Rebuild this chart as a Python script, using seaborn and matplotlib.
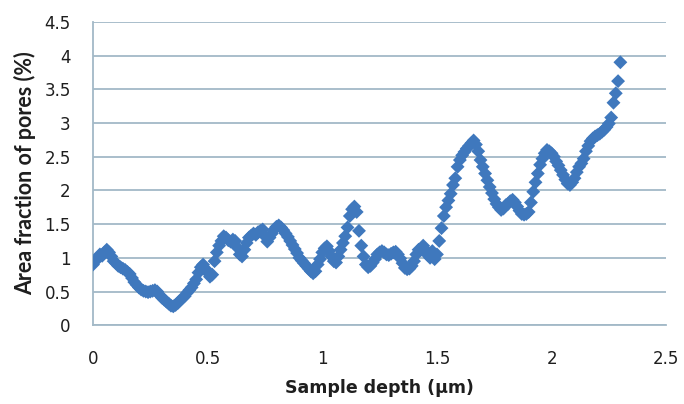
import numpy as np
import pandas as pd
import matplotlib
matplotlib.use("Agg")
import matplotlib.pyplot as plt
import seaborn as sns

# depth (um), one sample every 0.01 um
depth = [
    0.00, 0.01, 0.02, 0.03, 0.04, 0.05, 0.06, 0.07, 0.08, 0.09,
    0.10, 0.11, 0.12, 0.13, 0.14, 0.15, 0.16, 0.17, 0.18, 0.19,
    0.20, 0.21, 0.22, 0.23, 0.24, 0.25, 0.26, 0.27, 0.28, 0.29,
    0.30, 0.31, 0.32, 0.33, 0.34, 0.35, 0.36, 0.37, 0.38, 0.39,
    0.40, 0.41, 0.42, 0.43, 0.44, 0.45, 0.46, 0.47, 0.48, 0.49,
    0.50, 0.51, 0.52, 0.53, 0.54, 0.55, 0.56, 0.57, 0.58, 0.59,
    0.60, 0.61, 0.62, 0.63, 0.64, 0.65, 0.66, 0.67, 0.68, 0.69,
    0.70, 0.71, 0.72, 0.73, 0.74, 0.75, 0.76, 0.77, 0.78, 0.79,
    0.80, 0.81, 0.82, 0.83, 0.84, 0.85, 0.86, 0.87, 0.88, 0.89,
    0.90, 0.91, 0.92, 0.93, 0.94, 0.95, 0.96, 0.97, 0.98, 0.99,
    1.00, 1.01, 1.02, 1.03, 1.04, 1.05, 1.06, 1.07, 1.08, 1.09,
    1.10, 1.11, 1.12, 1.13, 1.14, 1.15, 1.16, 1.17, 1.18, 1.19,
    1.20, 1.21, 1.22, 1.23, 1.24, 1.25, 1.26, 1.27, 1.28, 1.29,
    1.30, 1.31, 1.32, 1.33, 1.34, 1.35, 1.36, 1.37, 1.38, 1.39,
    1.40, 1.41, 1.42, 1.43, 1.44, 1.45, 1.46, 1.47, 1.48, 1.49,
    1.50, 1.51, 1.52, 1.53, 1.54, 1.55, 1.56, 1.57, 1.58, 1.59,
    1.60, 1.61, 1.62, 1.63, 1.64, 1.65, 1.66, 1.67, 1.68, 1.69,
    1.70, 1.71, 1.72, 1.73, 1.74, 1.75, 1.76, 1.77, 1.78, 1.79,
    1.80, 1.81, 1.82, 1.83, 1.84, 1.85, 1.86, 1.87, 1.88, 1.89,
    1.90, 1.91, 1.92, 1.93, 1.94, 1.95, 1.96, 1.97, 1.98, 1.99,
    2.00, 2.01, 2.02, 2.03, 2.04, 2.05, 2.06, 2.07, 2.08, 2.09,
    2.10, 2.11, 2.12, 2.13, 2.14, 2.15, 2.16, 2.17, 2.18, 2.19,
    2.20, 2.21, 2.22, 2.23, 2.24, 2.25, 2.26, 2.27, 2.28, 2.29,
    2.30,
]

# area fraction of pores (%)
pores = [
    0.90, 0.95, 1.00, 1.05, 1.03, 1.08, 1.12, 1.08, 1.02, 0.95,
    0.92, 0.88, 0.86, 0.84, 0.82, 0.79, 0.76, 0.70, 0.64, 0.60,
    0.56, 0.53, 0.51, 0.50, 0.49, 0.50, 0.51, 0.52, 0.50, 0.45,
    0.41, 0.38, 0.35, 0.32, 0.29, 0.28, 0.30, 0.33, 0.37, 0.40,
    0.43, 0.48, 0.52, 0.56, 0.62, 0.68, 0.78, 0.86, 0.90, 0.84,
    0.78, 0.72, 0.75, 0.95, 1.08, 1.18, 1.25, 1.32, 1.30, 1.26,
    1.24, 1.27, 1.25, 1.15, 1.05, 1.02, 1.12, 1.22, 1.30, 1.33,
    1.36, 1.34, 1.38, 1.40, 1.42, 1.32, 1.24, 1.30, 1.36, 1.42,
    1.46, 1.48, 1.45, 1.41, 1.36, 1.31, 1.25, 1.19, 1.13, 1.07,
    1.00, 0.96, 0.92, 0.88, 0.84, 0.80, 0.77, 0.80, 0.90, 0.98,
    1.08, 1.14, 1.17, 1.10, 1.02, 0.95, 0.93, 1.02, 1.12, 1.22,
    1.32, 1.45, 1.62, 1.72, 1.76, 1.68, 1.40, 1.18, 1.02, 0.90,
    0.86, 0.88, 0.93, 0.98, 1.05, 1.08, 1.10, 1.08, 1.05, 1.04,
    1.06, 1.08, 1.09, 1.05, 0.99, 0.92, 0.85, 0.83, 0.84, 0.88,
    0.95, 1.05, 1.12, 1.12, 1.18, 1.12, 1.04, 1.00, 1.10, 0.98,
    1.05, 1.25, 1.44, 1.62, 1.75, 1.85, 1.95, 2.08, 2.18, 2.35,
    2.45, 2.52, 2.57, 2.62, 2.66, 2.70, 2.74, 2.68, 2.58, 2.45,
    2.35, 2.25, 2.15, 2.05, 1.96, 1.87, 1.80, 1.75, 1.71, 1.73,
    1.78, 1.80, 1.84, 1.86, 1.82, 1.76, 1.70, 1.65, 1.64, 1.65,
    1.68, 1.82, 1.98, 2.12, 2.25, 2.38, 2.47, 2.55, 2.60, 2.58,
    2.55, 2.50, 2.43, 2.37, 2.30, 2.23, 2.16, 2.10, 2.08, 2.12,
    2.18, 2.27, 2.35, 2.40, 2.47, 2.58, 2.66, 2.73, 2.77, 2.80,
    2.82, 2.84, 2.87, 2.90, 2.94, 2.99, 3.08, 3.30, 3.44, 3.62,
    3.90,
]

x_ticks = [0, 0.5, 1, 1.5, 2, 2.5]
x_tick_labels = ["0", "0.5", "1", "1.5", "2", "2.5"]
y_ticks = [0, 0.5, 1, 1.5, 2, 2.5, 3, 3.5, 4, 4.5]
y_tick_labels = ["0", "0.5", "1", "1.5", "2", "2.5", "3", "3.5", "4", "4.5"]

sns.set_style("white")
plt.rcParams["font.family"] = ["DejaVu Sans"]

grid_col = "#a3b9c7"
text_col = "#1e1e1e"

df = pd.DataFrame({"depth": depth, "pores": pores})

fig = plt.figure(figsize=(6.84, 4.04), dpi=100)
ax = fig.add_axes([0.136, 0.195, 0.838, 0.751])

sns.scatterplot(data=df, x="depth", y="pores", marker="D", s=50,
                color="#3f78bd", edgecolor="none", ax=ax, zorder=3)

ax.set_xlim(0, 2.5)
ax.set_ylim(0, 4.5)
ax.set_xticks(x_ticks)
ax.set_xticklabels(x_tick_labels)
ax.set_yticks(y_ticks)
ax.set_yticklabels(y_tick_labels)

ax.grid(axis="y", color=grid_col, linewidth=1.3)
ax.grid(axis="x", visible=False)
for side in ["top", "right"]:
    ax.spines[side].set_visible(False)
for side in ["left", "bottom"]:
    ax.spines[side].set_color(grid_col)
    ax.spines[side].set_linewidth(1.3)

ax.tick_params(axis="both", direction="out", length=6, width=1.3,
               color=grid_col, labelsize=12, labelcolor=text_col)
ax.tick_params(axis="y", pad=10)
ax.tick_params(axis="x", pad=12)

ax.set_xlabel("Sample depth (µm)", fontsize=12.5, fontweight="bold",
              color=text_col, labelpad=8)
ax.set_ylabel("Area fraction of pores (%)", fontsize=15.5, fontweight="bold",
              color=text_col, labelpad=6, family=["Lato", "DejaVu Sans"])

fig.savefig("out.png", dpi=100)
